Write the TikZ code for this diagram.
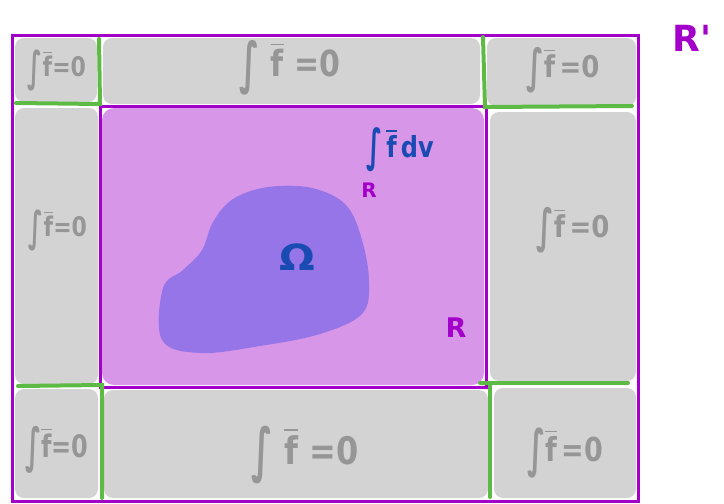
\documentclass[tikz,border=0pt]{standalone}
\usepackage{fontspec}
\usepackage{amsmath}
\newfontfamily\dvfont{DejaVu Sans}
\newcommand{\fb}{$\overline{\text{f}}$}
\newcommand{\bint}{\raisebox{-0.3ex}{\scalebox{1.1}[1.55]{∫}}}
\begin{document}
\begin{tikzpicture}[x=1pt,y=-1pt,
  graybox/.style={fill=boxgray,draw=none,rounded corners=9pt},
  frame/.style={draw=framepurple,line width=3pt},
  greenline/.style={draw=linegreen,line width=4pt,line cap=round},
  graytext/.style={text=textgray,font=\dvfont\bfseries,inner sep=0pt},
  bluetext/.style={text=textblue,font=\dvfont\bfseries,inner sep=0pt},
  purpletext/.style={text=framepurple,font=\dvfont\bfseries,inner sep=0pt}]
\definecolor{boxgray}{HTML}{D3D3D3}
\definecolor{textgray}{HTML}{969696}
\definecolor{framepurple}{HTML}{A300C9}
\definecolor{linegreen}{HTML}{5DBB45}
\definecolor{pinkfill}{HTML}{D896E8}
\definecolor{blobfill}{HTML}{9675E8}
\definecolor{textblue}{HTML}{1A4BB2}
\useasboundingbox (0,0) rectangle (724,504);
% gray regions
\path[graybox] (15,38) rectangle (97,102);
\path[graybox] (103,38) rectangle (480,104);
\path[graybox] (487,38) rectangle (636,106);
\path[graybox] (15,108) rectangle (98,384);
\path[graybox] (490,112) rectangle (636,381);
\path[graybox] (15,389) rectangle (98,498);
\path[graybox] (104,390) rectangle (488,498);
\path[graybox] (494,388) rectangle (636,498);
% pink region
\path[fill=pinkfill,rounded corners=12pt] (102,108) rectangle (484,385);
% blob
\path[fill=blobfill] plot[smooth cycle,tension=0.6] coordinates {
  (163,288) (183,270) (202,250) (213,222) (233,199) (268,187) (312,188)
  (346,205) (362,240) (369,282) (362,314) (320,334) (260,346) (200,353) (162,340)};
% frames
\draw[frame] (12,35) rectangle (638,501);
\draw[frame] (100,106) rectangle (486,387);
% green lines
\draw[greenline] (99,39) -- (100,104) -- (16,103);
\draw[greenline] (483,37) -- (485,107) -- (632,106);
\draw[greenline] (18,386) -- (102,385) -- (102,498);
\draw[greenline] (480,383) -- (628,383);
\draw[greenline] (490,384) -- (490,497);
% texts
\node[graytext,xscale=2.2,yscale=2.7] (t1) at (57,70) {\bint\fb=0};
\node[graytext,xscale=3.0,yscale=3.6] (t2) at (290,68) {\bint\ \fb\ =0};
\node[graytext,xscale=2.6,yscale=3.0] (t3) at (563,70) {\bint\fb\,=0};
\node[graytext,xscale=2.2,yscale=2.7] (t4) at (58,230) {\bint\fb=0};
\node[graytext,xscale=2.6,yscale=3.0] (t5) at (573,230) {\bint\fb\,=0};
\node[graytext,xscale=2.4,yscale=3.1] (t6) at (57,450) {\bint\fb=0};
\node[graytext,xscale=3.2,yscale=3.8] (t7) at (305,455) {\bint\ \fb\ =0};
\node[graytext,xscale=2.7,yscale=3.3] (t8) at (565,453) {\bint\fb\,=0};
\node[bluetext,xscale=2.4,yscale=2.9] (int) at (400,150) {\bint\,\fb\,dv};
\node[purpletext,scale=2.0] (rsub) at (369,190) {R};
\node[bluetext,xscale=4.2,yscale=3.6] (omega) at (297,257) {Ω};
\node[purpletext,scale=2.7] (r) at (456,328) {R};
\node[purpletext,scale=3.6] (rp) at (692,38) {R'};
\end{tikzpicture}
\end{document}
